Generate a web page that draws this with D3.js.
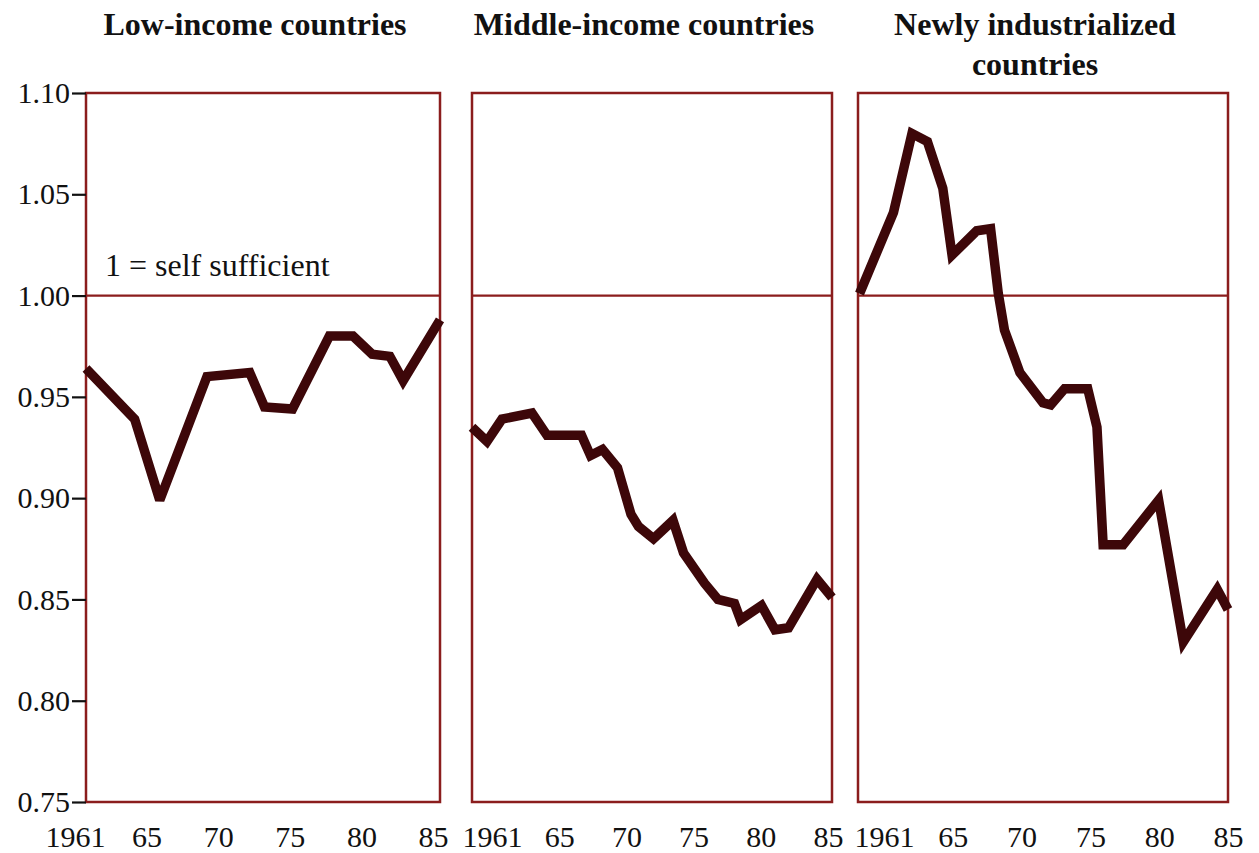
<!DOCTYPE html>
<html>
<head>
<meta charset="utf-8">
<script src="https://cdn.jsdelivr.net/npm/d3@7"></script>
<style>
  body { margin: 0; background: #fff; }
  text { font-family: "Liberation Serif", "Times New Roman", serif; fill: #111; }
</style>
</head>
<body>
<svg id="chart" width="1259" height="853"></svg>
<script>
// values (index, 1 = self sufficient)
const yTicks = [0.75, 0.80, 0.85, 0.90, 0.95, 1.00, 1.05, 1.10];
const xLabels = ["1961", "65", "70", "75", "80", "85"];
const titles = [["Low-income countries"], ["Middle-income countries"], ["Newly industrialized", "countries"]];

const lowYears = [1961, 1964.3, 1966, 1969.2, 1972.1, 1973.1, 1975, 1977.5, 1979.1, 1980.4, 1981.6, 1982.5, 1985];
const lowValues = [0.964, 0.939, 0.899, 0.960, 0.962, 0.945, 0.944, 0.980, 0.980, 0.971, 0.970, 0.958, 0.988];

const midYears = [1961, 1962, 1963, 1965, 1966, 1968.3, 1968.9, 1969.7, 1970.7, 1971.6, 1972.1, 1973.1, 1974.4, 1975.1,
                  1976.5, 1977.4, 1978.5, 1978.9, 1980.3, 1981.2, 1982.1, 1984, 1985];
const midValues = [0.935, 0.928, 0.939, 0.942, 0.931, 0.931, 0.921, 0.924, 0.915, 0.892, 0.886, 0.880, 0.889, 0.873,
                   0.858, 0.850, 0.848, 0.840, 0.847, 0.835, 0.836, 0.860, 0.851];

const nicYears = [1961.1, 1963.3, 1964.5, 1965.5, 1966.5, 1967.1, 1968.7, 1969.6, 1970.1, 1970.5, 1971.5, 1973, 1973.5,
                  1974.4, 1975.9, 1976.5, 1976.9, 1978.2, 1980.5, 1982.1, 1984.3, 1985];
const nicValues = [1.001, 1.041, 1.080, 1.076, 1.053, 1.020, 1.032, 1.033, 1.001, 0.983, 0.962, 0.947, 0.946,
                   0.954, 0.954, 0.935, 0.877, 0.877, 0.899, 0.829, 0.855, 0.845];

const frameColor = "#8b1d1d";
const lineColor = "#3d0709";

const svg = d3.select("#chart");

const y = d3.scaleLinear().domain([0.75, 1.10]).range([802, 93]);

// panel layout (pixels), labels in the original sit evenly spaced, not on the years
const panels = [
    { x0: 86, x1: 440, labelRange: [75, 433], years: lowYears, values: lowValues, title: titles[0] },
    { x0: 472, x1: 832, labelRange: [492, 828], years: midYears, values: midValues, title: titles[1] },
    { x0: 858, x1: 1228, labelRange: [884, 1228], years: nicYears, values: nicValues, title: titles[2] }
];

panels.forEach(function(p, i) {

    let x = d3.scaleLinear().domain([1961, 1985]).range([p.x0, p.x1]);
    let g = svg.append("g").attr("class", "panel-" + i);

    // frame
    g.append("rect")
        .attr("x", p.x0).attr("y", y(1.10))
        .attr("width", p.x1 - p.x0).attr("height", y(0.75) - y(1.10))
        .attr("fill", "none").attr("stroke", frameColor).attr("stroke-width", 2.5);

    // self sufficiency line
    g.append("line")
        .attr("x1", p.x0).attr("x2", p.x1)
        .attr("y1", y(1)).attr("y2", y(1))
        .attr("stroke", frameColor).attr("stroke-width", 2.2);

    let pts = p.years.map((yr, k) => [yr, p.values[k]]);
    let line = d3.line().x(d => x(d[0])).y(d => y(d[1]));

    g.append("path")
        .datum(pts)
        .attr("d", line)
        .attr("fill", "none")
        .attr("stroke", lineColor)
        .attr("stroke-width", 9.5)
        .attr("stroke-linejoin", "miter")
        .attr("stroke-miterlimit", 3);

    // x labels
    let lx = d3.scalePoint().domain(xLabels).range(p.labelRange);
    let xAxis = g.append("g")
        .attr("transform", `translate(0,${y(0.75) + 24})`)
        .call(d3.axisBottom(lx).tickSize(0).tickPadding(0));
    xAxis.select(".domain").remove();
    xAxis.selectAll("text")
        .attr("dy", "0.71em")
        .style("font-size", "30px")
        .style("fill", "#111");

    // title
    let cx = (p.x0 + p.x1) / 2;
    p.title.forEach(function(t, j) {
        g.append("text")
            .attr("x", cx - 8)
            .attr("y", 35 + j * 40)
            .attr("text-anchor", "middle")
            .style("font-size", "32px")
            .style("font-weight", "bold")
            .text(t);
    });
});

// y axis on the first panel
let yAxis = svg.append("g")
    .attr("transform", `translate(${panels[0].x0},0)`)
    .call(d3.axisLeft(y).tickValues(yTicks).tickFormat(d3.format(".2f")).tickSize(14).tickPadding(2));
yAxis.select(".domain").remove();
yAxis.selectAll(".tick line").attr("stroke", "#111").attr("stroke-width", 2.2);
yAxis.selectAll("text").style("font-size", "30px").style("fill", "#111");

svg.append("text")
    .attr("x", panels[0].x0 + 19)
    .attr("y", y(1) - 20)
    .style("font-size", "32px")
    .text("1 = self sufficient");
</script>
</body>
</html>
